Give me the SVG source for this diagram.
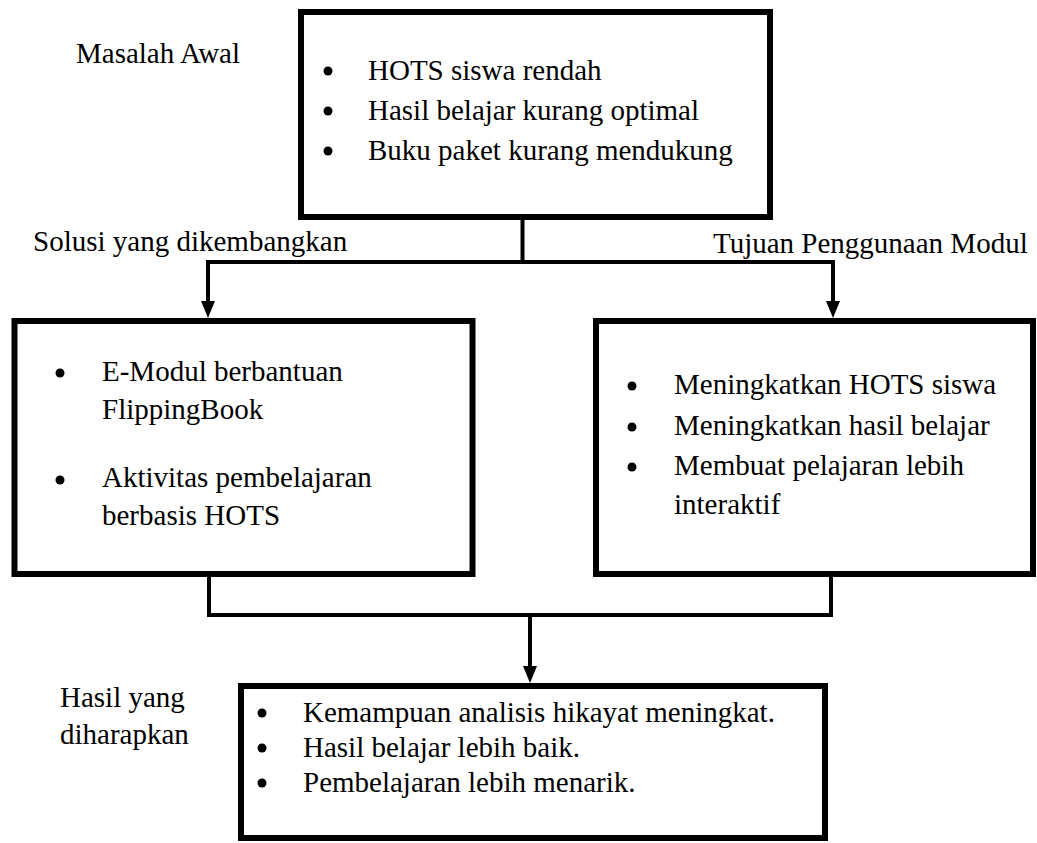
<svg xmlns="http://www.w3.org/2000/svg" width="1037" height="843" viewBox="0 0 1037 843">
<style>
.box{fill:#fff;stroke:#000;stroke-width:6}
.t{font-size:29px;fill:#000}
.conn{fill:none;stroke:#000;stroke-width:4;stroke-linejoin:miter;stroke-linecap:square}
.arrowline{stroke-linecap:butt}
.dot{fill:#000}
</style>
<defs>
<marker id="arr" markerUnits="userSpaceOnUse" markerWidth="17" markerHeight="14" refX="0" refY="7" orient="auto" viewBox="0 0 17 14">
<path d="M0,0 L17,7 L0,14 Z" fill="#000"/>
</marker>
</defs>
<rect width="1037" height="843" fill="#fff"/>
<g font-family="Liberation Serif, Times New Roman, Times, Nimbus Roman, FreeSerif, DejaVu Serif, serif">
<g id="labels">
<text class="t" x="76" y="63">Masalah Awal</text>
<text class="t" x="33" y="251">Solusi yang dikembangkan</text>
<text class="t" x="713" y="253">Tujuan Penggunaan Modul</text>
<text class="t" x="60" y="707">Hasil yang</text>
<text class="t" x="60" y="744">diharapkan</text>
</g>
<g id="connectors">
<path class="conn" d="M522.5,218 V262"/>
<path class="conn" d="M208,262 H833"/>
<path class="conn arrowline" d="M208,260 V301" marker-end="url(#arr)"/>
<path class="conn arrowline" d="M833,260 V301" marker-end="url(#arr)"/>
<path class="conn" d="M209,574 V615 H831 V574"/>
<path class="conn arrowline" d="M530,615 V666" marker-end="url(#arr)"/>
</g>
<g id="node-masalah">
<rect class="box" x="301" y="12" width="469" height="205"/>
<circle class="dot" cx="328" cy="71" r="4.5"/>
<circle class="dot" cx="328" cy="111" r="4.5"/>
<circle class="dot" cx="328" cy="151" r="4.5"/>
<text class="t" x="368" y="80">HOTS siswa rendah</text>
<text class="t" x="368" y="120">Hasil belajar kurang optimal</text>
<text class="t" x="368" y="160">Buku paket kurang mendukung</text>
</g>
<g id="node-solusi">
<rect class="box" x="14.5" y="321" width="458" height="253"/>
<circle class="dot" cx="60" cy="373" r="4.5"/>
<circle class="dot" cx="60" cy="480" r="4.5"/>
<text class="t" x="102" y="381">E-Modul berbantuan</text>
<text class="t" x="102" y="419">FlippingBook</text>
<text class="t" x="102" y="487">Aktivitas pembelajaran</text>
<text class="t" x="102" y="525">berbasis HOTS</text>
</g>
<g id="node-tujuan">
<rect class="box" x="596" y="321" width="437" height="253"/>
<circle class="dot" cx="632" cy="386" r="4.5"/>
<circle class="dot" cx="632" cy="427" r="4.5"/>
<circle class="dot" cx="632" cy="467" r="4.5"/>
<text class="t" x="674" y="394">Meningkatkan HOTS siswa</text>
<text class="t" x="674" y="435">Meningkatkan hasil belajar</text>
<text class="t" x="674" y="475">Membuat pelajaran lebih</text>
<text class="t" x="674" y="514">interaktif</text>
</g>
<g id="node-hasil">
<rect class="box" x="241" y="686" width="584" height="152"/>
<circle class="dot" cx="262" cy="713" r="4.5"/>
<circle class="dot" cx="262" cy="748" r="4.5"/>
<circle class="dot" cx="262" cy="783" r="4.5"/>
<text class="t" x="303" y="722">Kemampuan analisis hikayat meningkat.</text>
<text class="t" x="303" y="757">Hasil belajar lebih baik.</text>
<text class="t" x="303" y="792">Pembelajaran lebih menarik.</text>
</g>
</g>
</svg>
